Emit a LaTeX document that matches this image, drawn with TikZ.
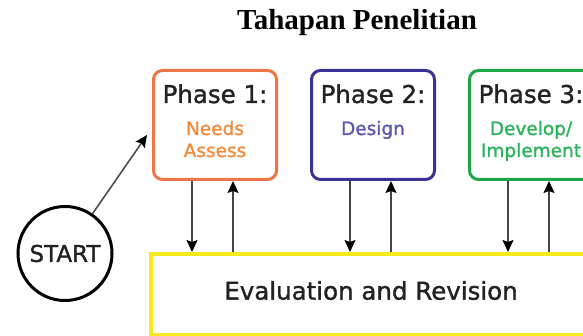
\documentclass[tikz,border=0pt]{standalone}
\usepackage{fontspec}
\setmainfont{Liberation Serif}
\newfontfamily\diagfont[FakeBold=1.3]{DejaVu Sans}
\usetikzlibrary{arrows.meta}

\definecolor{phaseorange}{HTML}{EE7548}
\definecolor{needsorange}{HTML}{F28A3E}
\definecolor{phasenavy}{HTML}{3B3393}
\definecolor{designblue}{HTML}{5A58B2}
\definecolor{phasegreen}{HTML}{1EA64B}
\definecolor{devgreen}{HTML}{2BB35C}
\definecolor{evalyellow}{HTML}{F6EA1F}
\definecolor{inkdark}{HTML}{222222}
\definecolor{linkgray}{HTML}{454545}

\tikzset{
  phasebox/.style={draw, line width=3pt, rounded corners=9pt,
    minimum width=123pt, minimum height=109pt, inner sep=0pt},
  phasehead/.style={anchor=base, inner sep=0pt, text=inkdark,
    font=\diagfont\fontsize{24.5}{29}\selectfont},
  phasesub/.style={anchor=base, inner sep=0pt,
    font=\diagfont\fontsize{18.5}{22}\selectfont},
  link/.style={draw=linkgray, line width=1.5pt,
    -{Stealth[length=12pt,width=11pt,inset=2pt,color=black]}},
}

\begin{document}
\begin{tikzpicture}[x=1pt,y=-1pt]
  \useasboundingbox (0,0) rectangle (583,336);
  \clip (0,0) rectangle (583,336);

  % title
  \node (title) [anchor=base, inner sep=0pt,
    font=\bfseries\fontsize{29}{34}\selectfont] at (357,30) {Tahapan Penelitian};

  % evaluation band along the bottom
  \node (eval) [draw=evalyellow, line width=4pt, inner sep=0pt,
    minimum width=440pt, minimum height=80.5pt] at (371,294.25) {};
  \node (evaltext) [inner sep=0pt, text=inkdark,
    font=\diagfont\fontsize{24.5}{29}\selectfont] at (371,290.5)
    {Evaluation and Revision};

  % phase boxes
  \node (p1) [phasebox, draw=phaseorange] at (215,125) {};
  \node (p2) [phasebox, draw=phasenavy]   at (373,125) {};
  \node (p3) [phasebox, draw=phasegreen]  at (531,125) {};

  \node (p1head) [phasehead] at (215,103) {Phase 1:};
  \node (p1suba) [phasesub, text=needsorange] at (215,135) {Needs};
  \node (p1subb) [phasesub, text=needsorange] at (215,157) {Assess};

  \node (p2head) [phasehead] at (373,103) {Phase 2:};
  \node (p2suba) [phasesub, text=designblue] at (373,135) {Design};

  \node (p3head) [phasehead] at (531,103) {Phase 3:};
  \node (p3suba) [phasesub, text=devgreen] at (531,135) {Develop/};
  \node (p3subb) [phasesub, text=devgreen] at (531,157) {Implement};

  % start circle and its arrow into phase 1
  \node (start) [draw=black, line width=3pt, circle, minimum size=94pt,
    inner sep=0pt, text=inkdark,
    font=\diagfont\fontsize{23}{27}\selectfont] at (65,253.5) {START};
  \coordinate (p1in) at (147,135);
  \draw[link] (start) -- (p1in);

  % down / up links between each phase and the evaluation band
  \foreach \p in {p1,p2,p3} {
    \coordinate (\p down) at ([xshift=-23pt]\p.south);
    \coordinate (\p up)   at ([xshift=18pt]\p.south);
    \draw[link] (\p down) -- (\p down |- eval.north);
    \draw[link] (\p up |- eval.north) -- (\p up);
  }
\end{tikzpicture}
\end{document}
